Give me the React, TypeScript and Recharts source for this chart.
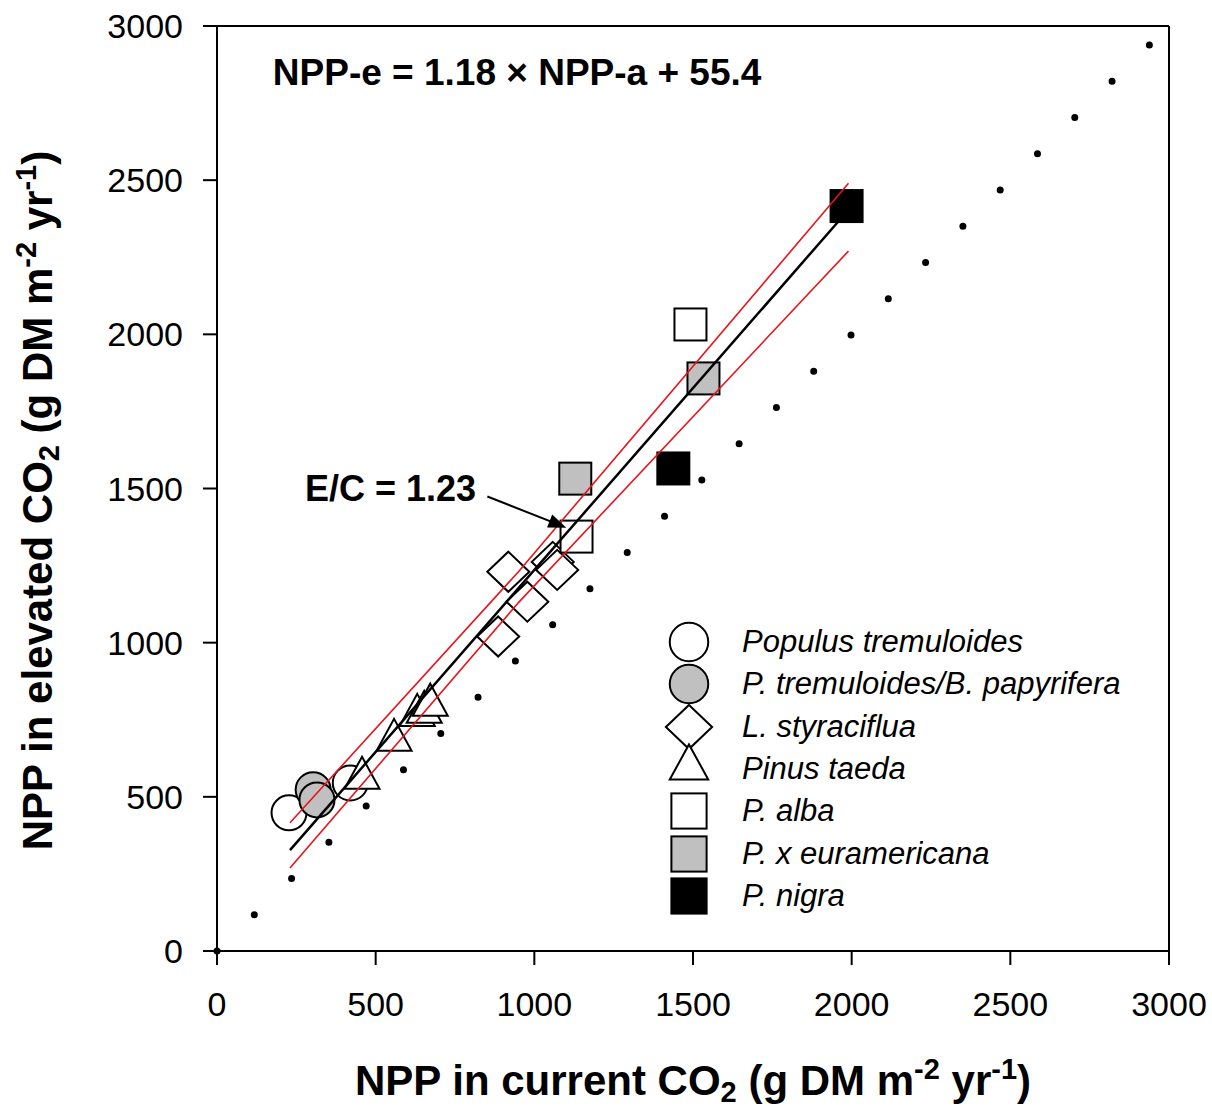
import React from 'react';
import { ScatterChart, Scatter, XAxis, YAxis, ReferenceLine, ReferenceDot, Label } from 'recharts';

type Pt = { x: number; y: number };

const xTicks = [0, 500, 1000, 1500, 2000, 2500, 3000];
const yTicks = [0, 500, 1000, 1500, 2000, 2500, 3000];

const speciesNames = [
  'Populus tremuloides',
  'P. tremuloides/B. papyrifera',
  'L. styraciflua',
  'Pinus taeda',
  'P. alba',
  'P. x euramericana',
  'P. nigra',
];

const populusTremuloides: Pt[] = [{ x: 227, y: 448 }, { x: 420, y: 545 }];
const tremPapyrifera: Pt[] = [{ x: 303, y: 523 }, { x: 315, y: 490 }];
const styraciflua: Pt[] = [
  { x: 886, y: 1020 }, { x: 918, y: 1230 }, { x: 978, y: 1133 }, { x: 1058, y: 1262 }, { x: 1072, y: 1236 },
];
const pinusTaeda: Pt[] = [
  { x: 457, y: 578 }, { x: 558, y: 701 }, { x: 631, y: 782 }, { x: 653, y: 792 }, { x: 672, y: 815 },
];
const pAlba: Pt[] = [{ x: 1133, y: 1344 }, { x: 1492, y: 2032 }];
const pEuramericana: Pt[] = [{ x: 1129, y: 1532 }, { x: 1533, y: 1857 }];
const pNigra: Pt[] = [{ x: 1438, y: 1565 }, { x: 1984, y: 2416 }];

// fitted line and its confidence band
const regression: Pt[] = [{ x: 230, y: 327 }, { x: 1980, y: 2392 }];
const upperBand: Pt[] = [{ x: 230, y: 416 }, { x: 950, y: 1230 }, { x: 1990, y: 2490 }];
const lowerBand: Pt[] = [{ x: 230, y: 269 }, { x: 950, y: 1130 }, { x: 1990, y: 2270 }];
const oneToOne: Pt[] = [{ x: 0, y: 0 }, { x: 3000, y: 3000 }];

const equationText = 'NPP-e = 1.18 \u00d7 NPP-a + 55.4';
const ratioText = 'E/C = 1.23';
const equationAt: Pt = { x: 176, y: 2851 };
const ratioLabelAt: Pt = { x: 277, y: 1502 };
const arrowFrom: Pt = { x: 852, y: 1474 };
const arrowTo: Pt = { x: 1101, y: 1373 };

const FONT = 'Arial, "Liberation Sans", Helvetica, sans-serif';
const GREY = '#c0c0c0';
const RED = '#e8141c';

type Kind = 'circle' | 'diamond' | 'triangle' | 'square';
const seriesStyle: { kind: Kind; fill: string }[] = [
  { kind: 'circle', fill: '#fff' },
  { kind: 'circle', fill: GREY },
  { kind: 'diamond', fill: '#fff' },
  { kind: 'triangle', fill: '#fff' },
  { kind: 'square', fill: '#fff' },
  { kind: 'square', fill: GREY },
  { kind: 'square', fill: '#000' },
];
const seriesData = [populusTremuloides, tremPapyrifera, styraciflua, pinusTaeda, pAlba, pEuramericana, pNigra];

function marker(kind: Kind, fill: string, cx: number, cy: number, big = false) {
  const k = big ? 1.1 : 1;
  const common = { fill, stroke: '#000', strokeWidth: 2 };
  if (kind === 'circle') return <circle cx={cx} cy={cy} r={17.5 * k} {...common} />;
  if (kind === 'square') {
    const h = 16 * k;
    return <rect x={cx - h} y={cy - h} width={2 * h} height={2 * h} {...common} />;
  }
  if (kind === 'diamond') {
    const w = 21 * k;
    const h = 20 * k;
    return <polygon points={`${cx},${cy - h} ${cx + w},${cy} ${cx},${cy + h} ${cx - w},${cy}`} {...common} />;
  }
  const w = 17.5 * k;
  const h = 16 * k;
  return <polygon points={`${cx},${cy - h} ${cx + w},${cy + h} ${cx - w},${cy + h}`} {...common} />;
}

const noShape = () => <g />;

const TitleSpans = ({ lead }: { lead: string }) => (
  <>
    <tspan>{lead} CO</tspan>
    <tspan dy={7} fontSize={29}>2</tspan>
    <tspan dy={-7}> (g DM m</tspan>
    <tspan dy={-16} fontSize={29}>-2</tspan>
    <tspan dy={16}> yr</tspan>
    <tspan dy={-16} fontSize={29}>-1</tspan>
    <tspan dy={16}>)</tspan>
  </>
);

const XTitle = (props: any) => {
  const vb = props.viewBox;
  const cx = vb.x + vb.width / 2;
  const y = vb.y + 144;
  return (
    <text x={cx} y={y} textAnchor="middle" fontFamily={FONT} fontWeight="bold" fontSize={42} fill="#000">
      <TitleSpans lead="NPP in current" />
    </text>
  );
};

const YTitle = (props: any) => {
  const vb = props.viewBox;
  const x = 52;
  const cy = vb.y + vb.height / 2 + 12;
  return (
    <text x={x} y={cy} textAnchor="middle" transform={`rotate(-90, ${x}, ${cy})`}
      fontFamily={FONT} fontWeight="bold" fontSize={42} fill="#000">
      <TitleSpans lead="NPP in elevated" />
    </text>
  );
};

const Legend = () => (
  <div style={{ position: 'absolute', left: 660, top: 620, fontFamily: FONT }}>
    {speciesNames.map((name, i) => {
      const st = seriesStyle[i];
      const shift = st.kind === 'triangle' ? -7 : 0;
      return (
        <div key={name} style={{ position: 'absolute', left: 0, top: i * 42.33, height: 44, display: 'flex', alignItems: 'center', whiteSpace: 'nowrap' }}>
          <svg width={60} height={60} style={{ marginTop: -16, marginBottom: -16, overflow: 'visible' }}>
            {marker(st.kind, st.fill, 29, 30 + shift, true)}
          </svg>
          <span style={{ marginLeft: 22, fontSize: 31, fontStyle: 'italic', color: '#000' }}>{name}</span>
        </div>
      );
    })}
  </div>
);

export default function App() {
  return (
    <div style={{ position: 'absolute', left: 0, top: 0, width: 1212, height: 1108, background: '#fff' }}>
      <ScatterChart width={1212} height={1108} margin={{ top: 26, right: 43, left: 117, bottom: 77 }}>
        <XAxis type="number" dataKey="x" domain={[0, 3000]} ticks={xTicks} allowDataOverflow
          height={80} tickSize={14} tickMargin={27}
          axisLine={{ stroke: '#000', strokeWidth: 2 }} tickLine={{ stroke: '#000', strokeWidth: 2 }}
          tick={{ fill: '#000', fontSize: 34, fontFamily: FONT }}>
          <Label content={XTitle} />
        </XAxis>
        <YAxis type="number" dataKey="y" domain={[0, 3000]} ticks={yTicks} allowDataOverflow
          width={100} tickSize={14} tickMargin={20}
          axisLine={{ stroke: '#000', strokeWidth: 2 }} tickLine={{ stroke: '#000', strokeWidth: 2 }}
          tick={{ fill: '#000', fontSize: 34, fontFamily: FONT }}>
          <Label content={YTitle} />
        </YAxis>
        <ReferenceLine y={3000} stroke="#000" strokeWidth={2} />
        <ReferenceLine x={3000} stroke="#000" strokeWidth={2} />
        <ReferenceLine segment={[oneToOne[0], oneToOne[1]]} stroke="#000" strokeWidth={7}
          strokeLinecap="round" strokeDasharray="0 52" />

        {seriesData.map((data, i) => (
          <Scatter key={speciesNames[i]} name={speciesNames[i]} data={data} isAnimationActive={false}
            shape={(p: any) => marker(seriesStyle[i].kind, seriesStyle[i].fill, p.cx, p.cy)} />
        ))}

        <Scatter data={upperBand} line={{ stroke: RED, strokeWidth: 1.6 }} shape={noShape} isAnimationActive={false} />
        <Scatter data={lowerBand} line={{ stroke: RED, strokeWidth: 1.6 }} shape={noShape} isAnimationActive={false} />
        <Scatter data={regression} line={{ stroke: '#000', strokeWidth: 2.5 }} shape={noShape} isAnimationActive={false} />

        <ReferenceLine segment={[arrowFrom, arrowTo]} stroke="#000" strokeWidth={2} />
        <ReferenceDot x={arrowTo.x} y={arrowTo.y} shape={(p: any) => (
          <polygon transform={`rotate(21.4, ${p.cx}, ${p.cy})`}
            points={`${p.cx},${p.cy} ${p.cx - 18},${p.cy - 7} ${p.cx - 18},${p.cy + 7}`} fill="#000" />
        )} />
        <ReferenceDot x={equationAt.x} y={equationAt.y} shape={(p: any) => (
          <text x={p.cx} y={p.cy} dy="0.36em" fontFamily={FONT} fontWeight="bold" fontSize={37} fill="#000">{equationText}</text>
        )} />
        <ReferenceDot x={ratioLabelAt.x} y={ratioLabelAt.y} shape={(p: any) => (
          <text x={p.cx} y={p.cy} dy="0.36em" fontFamily={FONT} fontWeight="bold" fontSize={36} fill="#000">{ratioText}</text>
        )} />
      </ScatterChart>
      <Legend />
    </div>
  );
}
